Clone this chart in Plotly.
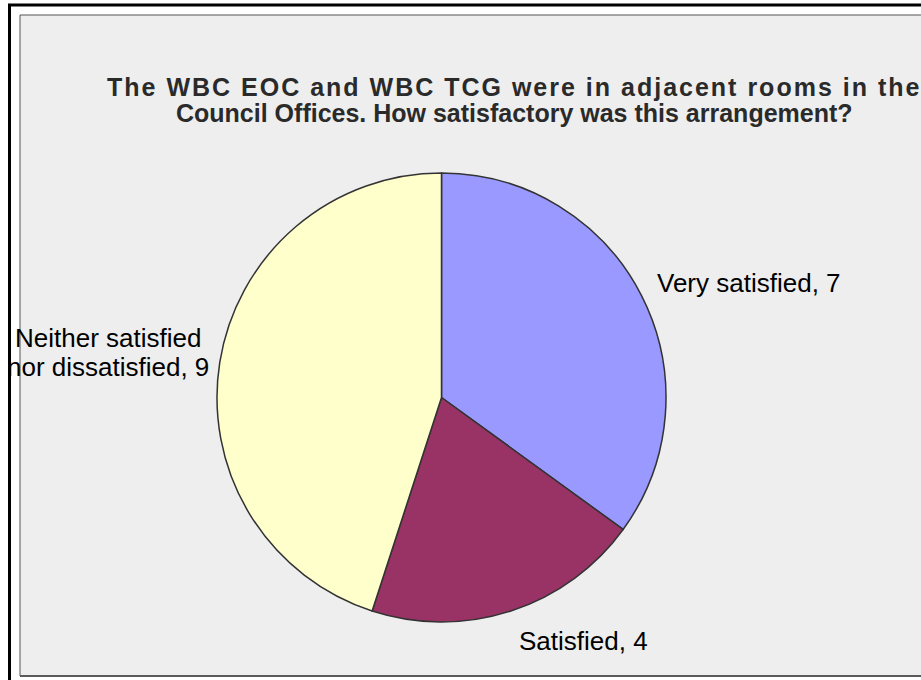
import plotly.graph_objects as go

# Survey responses
categories = ["Very satisfied", "Satisfied", "Neither satisfied nor dissatisfied"]
counts = [7, 4, 9]
colors = ["#9999FF", "#993366", "#FFFFCC"]

title_lines = [
    "The WBC EOC and WBC TCG were in adjacent rooms in the",
    "Council Offices. How satisfactory was this arrangement?",
]
title_spacing = [2.0, 0.0]  # px of extra tracking per line

W, H = 921, 680
FONT = "Liberation Sans, Arial, sans-serif"


def px(x):
    return x / W


def py(y):
    return 1 - y / H


fig = go.Figure(
    go.Pie(
        labels=categories,
        values=counts,
        marker=dict(colors=colors, line=dict(color="#333333", width=1.5)),
        sort=False,
        direction="clockwise",
        rotation=0,
        textinfo="none",
        hoverinfo="label+value",
        showlegend=False,
        domain=dict(x=[px(217), px(666)], y=[py(622), py(173)]),
    )
)

shapes = [
    # chart area panel
    dict(type="rect", xref="paper", yref="paper",
         x0=px(20), y0=py(676), x1=px(940), y1=py(15),
         fillcolor="#EEEEEE", line=dict(color="#555555", width=1), layer="below"),
    dict(type="line", xref="paper", yref="paper",
         x0=px(20), y0=py(676), x1=px(940), y1=py(676),
         line=dict(color="#5A5A5A", width=2), layer="below"),
    # outer frame
    dict(type="rect", xref="paper", yref="paper",
         x0=px(9.5), y0=py(700), x1=px(960), y1=py(5),
         fillcolor="rgba(0,0,0,0)", line=dict(color="#000000", width=3), layer="above"),
]

annotations = []
for i, (line, sp) in enumerate(zip(title_lines, title_spacing)):
    annotations.append(dict(
        text=f"<span style='letter-spacing:{sp}px'><b>{line}</b></span>",
        xref="paper", yref="paper",
        x=px(514), y=py(87 + 26 * i), xanchor="center", yanchor="middle",
        showarrow=False, font=dict(family=FONT, size=25, color="#2A2A2A"),
    ))

label_font = dict(family=FONT, size=26, color="#000000")
lbl = [f"{c}, {v}" for c, v in zip(categories, counts)]

# Very satisfied
annotations.append(dict(text=lbl[0], xref="paper", yref="paper",
                        x=px(655), y=py(283), xanchor="left", yanchor="middle",
                        showarrow=False, font=label_font))
# Satisfied
annotations.append(dict(text=lbl[1], xref="paper", yref="paper",
                        x=px(517), y=py(641), xanchor="left", yanchor="middle",
                        showarrow=False, font=label_font))
# Neither satisfied nor dissatisfied (wrapped over two lines)
first, second = lbl[2].split(" nor ")
for j, part in enumerate([first, "nor " + second]):
    annotations.append(dict(text=part, xref="paper", yref="paper",
                            x=px(108), y=py(338 + 28.5 * j), xanchor="center", yanchor="middle",
                            showarrow=False, font=label_font))

fig.update_layout(
    width=W, height=H,
    margin=dict(l=0, r=0, t=0, b=0),
    paper_bgcolor="#FFFFFF",
    plot_bgcolor="#FFFFFF",
    shapes=shapes,
    annotations=annotations,
)

fig.write_html("out.html", config={"displayModeBar": False})
